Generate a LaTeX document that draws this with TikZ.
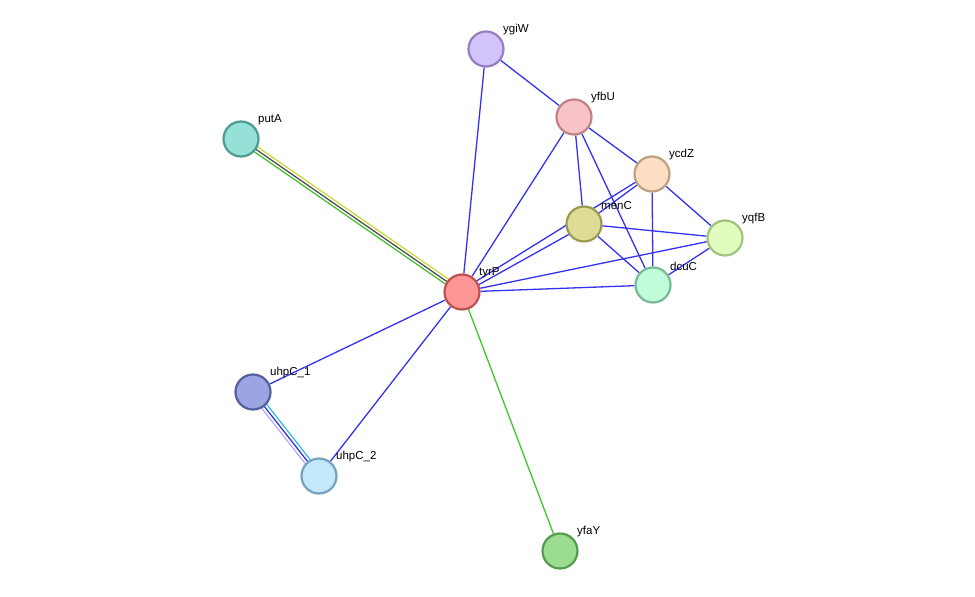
\documentclass[tikz,border=0pt]{standalone}
\usepackage{fontspec}
\setmainfont{Liberation Sans}
\begin{document}
\begin{tikzpicture}[x=1pt,y=-1pt,
  nd/.style={circle,minimum size=35pt,inner sep=0pt,line width=2.2pt},
  lb/.style={font=\fontsize{11.5}{13}\selectfont,anchor=south west,inner sep=0pt},
  e/.style={draw={rgb,255:red,50;green,50;blue,240},line width=1.3pt}]
\useasboundingbox (0,0) rectangle (975,597);
\def\N#1#2#3#4#5{\node[nd,fill={rgb,255:#4},draw={rgb,255:#5}] (#1) at (#2,#3) {};}
\N{ygiW}{486}{49}{red,210;green,195;blue,250}{red,150;green,125;blue,195}
\N{yfbU}{574}{117}{red,248;green,195;blue,198}{red,190;green,130;blue,135}
\N{putA}{241}{139}{red,150;green,225;blue,215}{red,80;green,155;blue,145}
\N{ycdZ}{652}{174}{red,252;green,222;blue,195}{red,190;green,160;blue,130}
\N{menC}{584}{224}{red,222;green,220;blue,150}{red,155;green,155;blue,80}
\N{yqfB}{725}{238}{red,225;green,252;blue,190}{red,160;green,195;blue,125}
\N{tyrP}{462}{292}{red,255;green,150;blue,150}{red,190;green,80;blue,80}
\N{dcuC}{653}{285}{red,192;green,252;blue,218}{red,120;green,185;blue,150}
\N{uhpC1}{253}{392}{red,155;green,165;blue,225}{red,85;green,95;blue,160}
\N{uhpC2}{319}{476}{red,195;green,232;blue,252}{red,120;green,160;blue,190}
\N{yfaY}{560}{551}{red,155;green,220;blue,145}{red,85;green,155;blue,80}
\begin{scope}[on background layer/.style={}]
\end{scope}
\begin{pgfinterruptboundingbox}\end{pgfinterruptboundingbox}
% edges drawn behind via layers
\pgfdeclarelayer{bg}\pgfsetlayers{bg,main}
\begin{pgfonlayer}{bg}
\foreach \a/\b in {ygiW/tyrP,ygiW/yfbU,yfbU/tyrP,yfbU/menC,yfbU/dcuC,yfbU/ycdZ,ycdZ/menC,ycdZ/dcuC,ycdZ/yqfB,menC/yqfB,menC/dcuC,tyrP/yqfB,tyrP/dcuC,yqfB/dcuC,tyrP/uhpC1,tyrP/uhpC2}
  \draw[e] (\a) -- (\b);
\draw[e] ([yshift=-2pt]tyrP.center) -- ([yshift=-2pt]menC.center);
\draw[e] ([yshift=2pt]tyrP.center) -- ([yshift=2pt]ycdZ.center);
\draw[e,draw={rgb,255:red,60;green,200;blue,40}] (tyrP) -- (yfaY);
\draw[line width=1.2pt,draw={rgb,255:red,200;green,215;blue,50}] ([shift={(1.5,-2.5)}]putA.center) -- ([shift={(1.5,-2.5)}]tyrP.center);
\draw[line width=1.2pt,draw={rgb,255:red,70;green,70;blue,70}] (putA.center) -- (tyrP.center);
\draw[line width=1.2pt,draw={rgb,255:red,60;green,190;blue,40}] ([shift={(-1.5,2.5)}]putA.center) -- ([shift={(-1.5,2.5)}]tyrP.center);
\draw[line width=1.2pt,draw={rgb,255:red,180;green,170;blue,240}] ([shift={(-2.5,2)}]uhpC1.center) -- ([shift={(-2.5,2)}]uhpC2.center);
\draw[line width=1.2pt,draw={rgb,255:red,40;green,40;blue,220}] (uhpC1.center) -- (uhpC2.center);
\draw[line width=1.2pt,draw={rgb,255:red,40;green,190;blue,220}] ([shift={(2.5,-2)}]uhpC1.center) -- ([shift={(2.5,-2)}]uhpC2.center);
\end{pgfonlayer}
\node[lb] (lygiW) at (503,35) {ygiW};
\node[lb] (lyfbU) at (591,103) {yfbU};
\node[lb] (lputA) at (258,125) {putA};
\node[lb] (lycdZ) at (669,160) {ycdZ};
\node[lb] (lmenC) at (601,210) {menC};
\node[lb] (lyqfB) at (742,224) {yqfB};
\node[lb] (ltyrP) at (479,278) {tyrP};
\node[lb] (ldcuC) at (670,271) {dcuC};
\node[lb] (luhpC1) at (270,378) {uhpC\_1};
\node[lb] (luhpC2) at (336,462) {uhpC\_2};
\node[lb] (lyfaY) at (577,537) {yfaY};
\end{tikzpicture}
\end{document}
